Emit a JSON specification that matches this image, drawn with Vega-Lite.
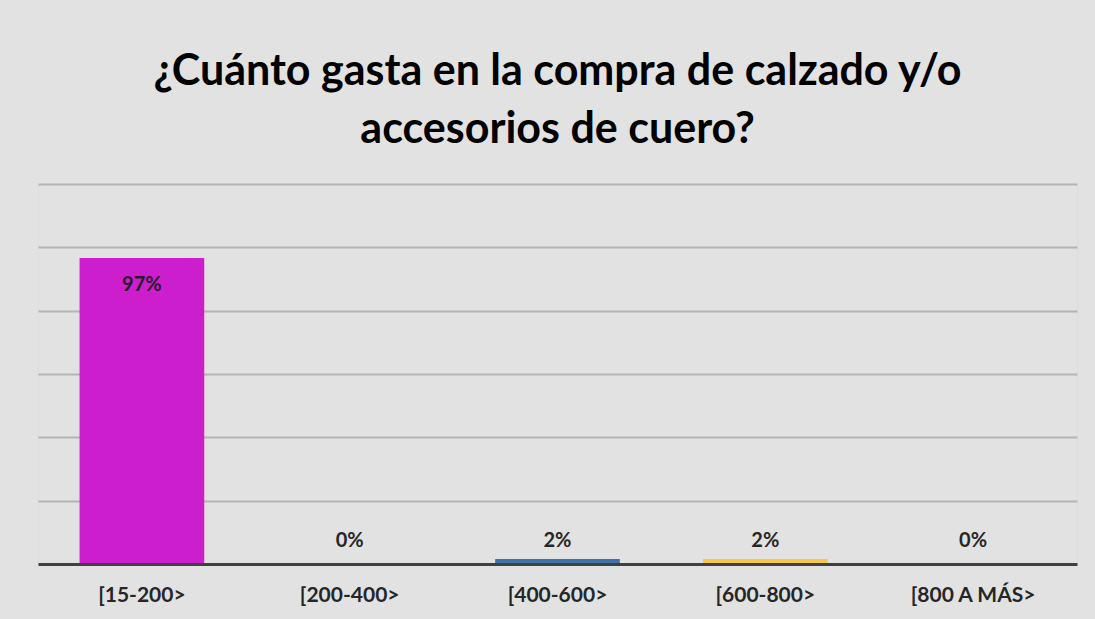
{
  "$schema": "https://vega.github.io/schema/vega-lite/v6.json",
  "width": 1039,
  "height": 380,
  "autosize": {"type": "none"},
  "padding": {"left": 38, "top": 184, "right": 18, "bottom": 55},
  "background": "#e2e2e2",
  "title": {
    "text": ["¿Cuánto gasta en la compra de calzado y/o", "accesorios de cuero?"],
    "font": "Lato",
    "fontSize": 43,
    "fontWeight": "bold",
    "color": "#000000",
    "anchor": "middle",
    "lineHeight": 58,
    "offset": 32
  },
  "data": {
    "values": [
      {"rango": "[15-200>", "pct": 0.966, "color": "#cc1ecc"},
      {"rango": "[200-400>", "pct": 0.0, "color": "#a5a5a5"},
      {"rango": "[400-600>", "pct": 0.016, "color": "#3f72a8"},
      {"rango": "[600-800>", "pct": 0.016, "color": "#f6c744"},
      {"rango": "[800 A MÁS>", "pct": 0.0, "color": "#70ad47"}
    ]
  },
  "encoding": {
    "x": {
      "field": "rango",
      "type": "nominal",
      "sort": null,
      "scale": {"paddingInner": 0.4, "paddingOuter": 0.2},
      "axis": {
        "title": null,
        "labelAngle": 0,
        "labelFont": "Lato",
        "labelFontSize": 21,
        "labelFontWeight": "bold",
        "labelColor": "#262626",
        "labelPadding": 20,
        "ticks": false,
        "domainColor": "#404040",
        "domainWidth": 3,
        "zindex": 2
      }
    },
    "y": {
      "field": "pct",
      "type": "quantitative",
      "scale": {"domain": [0, 1.2]},
      "axis": {
        "title": null,
        "labels": false,
        "ticks": false,
        "domain": false,
        "values": [0.2, 0.4, 0.6, 0.8, 1.0, 1.2],
        "gridColor": "#b4b4b4",
        "gridWidth": 2
      }
    }
  },
  "layer": [
    {
      "mark": {"type": "bar"},
      "encoding": {
        "color": {"field": "color", "type": "nominal", "scale": null}
      }
    },
    {
      "transform": [{"filter": "datum.pct > 0.5"}],
      "mark": {"type": "text", "baseline": "top", "dy": 17, "font": "Lato", "fontSize": 20, "fontWeight": "bold", "color": "#2a1a2a"},
      "encoding": {
        "text": {"field": "pct", "type": "quantitative", "format": ".0%"}
      }
    },
    {
      "transform": [{"filter": "datum.pct <= 0.5"}],
      "mark": {"type": "text", "baseline": "bottom", "dy": -13, "font": "Lato", "fontSize": 20, "fontWeight": "bold", "color": "#262626"},
      "encoding": {
        "y": {"datum": 0},
        "text": {"field": "pct", "type": "quantitative", "format": ".0%"}
      }
    }
  ]
}
